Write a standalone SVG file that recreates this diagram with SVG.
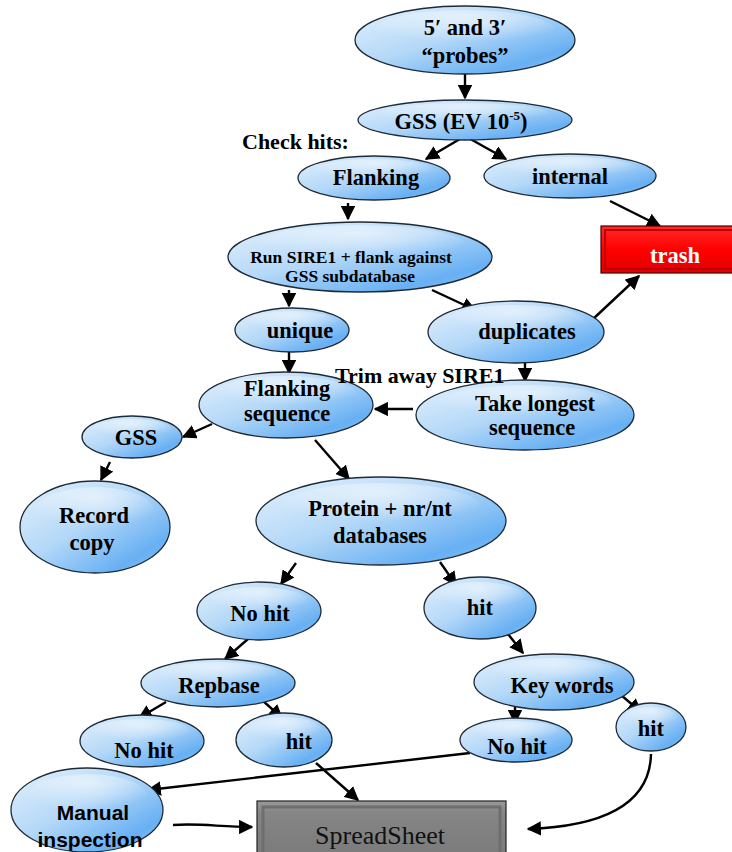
<svg xmlns="http://www.w3.org/2000/svg" width="732" height="852" viewBox="0 0 732 852">
<defs>
<linearGradient id="eg" x1="0" y1="0" x2="1" y2="1">
<stop offset="0" stop-color="#e4f1fc"/>
<stop offset="0.45" stop-color="#b4d8f8"/>
<stop offset="0.8" stop-color="#68b0f3"/>
<stop offset="1" stop-color="#8cc4f5"/>
</linearGradient>
<radialGradient id="hl" cx="0.5" cy="0.2" r="0.6">
<stop offset="0" stop-color="#ffffff" stop-opacity="0.55"/>
<stop offset="1" stop-color="#ffffff" stop-opacity="0"/>
</radialGradient>
<linearGradient id="red" x1="0" y1="0" x2="0" y2="1">
<stop offset="0" stop-color="#ff2a2a"/>
<stop offset="0.5" stop-color="#ff0000"/>
<stop offset="1" stop-color="#e00000"/>
</linearGradient>
<linearGradient id="gray" x1="0" y1="0" x2="0" y2="1">
<stop offset="0" stop-color="#9a9a9a"/>
<stop offset="0.2" stop-color="#858585"/>
<stop offset="1" stop-color="#7a7a7a"/>
</linearGradient>
<marker id="ah" viewBox="0 0 10 10" refX="9" refY="5" markerWidth="6" markerHeight="6" orient="auto" markerUnits="strokeWidth">
<path d="M0,0 L10,5 L0,10 z" fill="#000"/>
</marker>
</defs>
<style>
.n ellipse.b{fill:url(#eg);stroke:#1e2a36;stroke-width:1.3}
.n ellipse.h{fill:url(#hl);stroke:none}
.t{font-family:"Liberation Serif","Times New Roman",serif;font-weight:bold;font-size:22.5px;fill:#000;text-anchor:middle}
.s{font-size:17.5px}
.sans{font-family:"Liberation Sans Narrow","Liberation Sans",Arial,sans-serif;font-size:21px}
.lbl{font-family:"Liberation Serif","Times New Roman",serif;font-weight:bold;font-size:22px;fill:#000}
.c line,.c path{stroke:#000;stroke-width:2.4;fill:none;marker-end:url(#ah)}
</style>

<g class="c" id="connectors">
<line x1="465" y1="70" x2="465" y2="98"/>
<line x1="465" y1="136" x2="426" y2="159"/>
<line x1="465" y1="136" x2="506" y2="159"/>
<line x1="348" y1="203" x2="348" y2="219"/>
<line x1="610" y1="201" x2="660" y2="226"/>
<line x1="592" y1="320" x2="639" y2="276"/>
<line x1="289" y1="290" x2="289" y2="306"/>
<line x1="432" y1="290" x2="475" y2="310"/>
<line x1="289" y1="352" x2="289" y2="373"/>
<line x1="525" y1="362" x2="525" y2="381"/>
<line x1="413" y1="409" x2="375" y2="409"/>
<line x1="212" y1="424" x2="183" y2="437"/>
<line x1="110" y1="462" x2="101" y2="480"/>
<line x1="315" y1="440" x2="349" y2="479"/>
<line x1="296" y1="563" x2="281" y2="584"/>
<line x1="440" y1="562" x2="456" y2="585"/>
<line x1="248" y1="639" x2="225" y2="659"/>
<line x1="508" y1="634" x2="523" y2="653"/>
<line x1="166" y1="702" x2="139" y2="718"/>
<line x1="262" y1="700" x2="282" y2="718"/>
<line x1="515" y1="705" x2="515" y2="723"/>
<line x1="615" y1="690" x2="641" y2="712"/>
<line x1="470" y1="753" x2="148" y2="790"/>
<line x1="316" y1="763" x2="358" y2="800"/>
<path d="M651,754 C650,800 610,826 528,829"/>
<path d="M173,825 C200,823 220,827 252,827"/>
</g>

<g class="n" id="probes"><ellipse class="b" cx="465" cy="40" rx="110" ry="34"/><ellipse class="h" cx="465" cy="30" rx="90" ry="20"/><text class="t" x="465" y="35">5′ and 3′</text><text class="t" x="465" y="63">“probes”</text></g>
<g class="n" id="gss1"><ellipse class="b" cx="465" cy="120" rx="107" ry="20"/><ellipse class="h" cx="465" cy="114" rx="85" ry="11"/><text class="t" x="461" y="129">GSS (EV 10<tspan font-size="13" dy="-9">-5</tspan><tspan dy="9">)</tspan></text></g>
<g class="n" id="flanking"><ellipse class="b" cx="374" cy="178" rx="76" ry="22"/><ellipse class="h" cx="374" cy="171" rx="60" ry="12"/><text class="t" x="376" y="185">Flanking</text></g>
<g class="n" id="internal"><ellipse class="b" cx="570" cy="176" rx="86" ry="22"/><ellipse class="h" cx="570" cy="169" rx="68" ry="12"/><text class="t" x="570" y="184">internal</text></g>
<g id="trash"><rect x="601" y="226" width="140" height="47" fill="url(#red)" stroke="#400" stroke-width="1.2"/><rect x="605" y="230" width="140" height="39" fill="none" stroke="#c00000" stroke-width="2"/><text class="t" x="675" y="263" style="fill:#fff">trash</text></g>
<g class="n" id="run"><ellipse class="b" cx="360" cy="257" rx="132" ry="35"/><ellipse class="h" cx="360" cy="245" rx="105" ry="20"/><text class="t s" x="351" y="263">Run SIRE1 + flank against</text><text class="t s" x="350" y="282">GSS subdatabase</text></g>
<g class="n" id="unique"><ellipse class="b" cx="292" cy="330" rx="57" ry="22"/><ellipse class="h" cx="292" cy="323" rx="45" ry="12"/><text class="t" x="300" y="338">unique</text></g>
<g class="n" id="duplicates"><ellipse class="b" cx="516" cy="332" rx="88" ry="31"/><ellipse class="h" cx="516" cy="322" rx="70" ry="17"/><text class="t" x="527" y="339">duplicates</text></g>
<g class="n" id="flankseq"><ellipse class="b" cx="286" cy="405" rx="87" ry="33"/><ellipse class="h" cx="286" cy="394" rx="70" ry="18"/><text class="t" x="287" y="396">Flanking</text><text class="t" x="287" y="421">sequence</text></g>
<g class="n" id="longest"><ellipse class="b" cx="525" cy="415" rx="109" ry="35"/><ellipse class="h" cx="525" cy="404" rx="88" ry="19"/><text class="t" x="535" y="411">Take longest</text><text class="t" x="532" y="435">sequence</text></g>
<g class="n" id="gss2"><ellipse class="b" cx="132" cy="437" rx="50" ry="21"/><ellipse class="h" cx="132" cy="430" rx="40" ry="11"/><text class="t" x="136" y="445">GSS</text></g>
<g class="n" id="record"><ellipse class="b" cx="95" cy="527" rx="75" ry="46"/><ellipse class="h" cx="95" cy="512" rx="60" ry="25"/><text class="t" x="94" y="523">Record</text><text class="t" x="92" y="550">copy</text></g>
<g class="n" id="protein"><ellipse class="b" cx="381" cy="521" rx="125" ry="44"/><ellipse class="h" cx="381" cy="507" rx="100" ry="24"/><text class="t" x="380" y="516">Protein + nr/nt</text><text class="t" x="380" y="543">databases</text></g>
<g class="n" id="nohit1"><ellipse class="b" cx="259" cy="611" rx="62" ry="29"/><ellipse class="h" cx="259" cy="602" rx="50" ry="15"/><text class="t" x="260" y="621">No hit</text></g>
<g class="n" id="hit1"><ellipse class="b" cx="480" cy="608" rx="56" ry="31"/><ellipse class="h" cx="480" cy="598" rx="45" ry="16"/><text class="t" x="480" y="615">hit</text></g>
<g class="n" id="repbase"><ellipse class="b" cx="218" cy="683" rx="77" ry="24"/><ellipse class="h" cx="218" cy="675" rx="60" ry="13"/><text class="t" x="219" y="693">Repbase</text></g>
<g class="n" id="keywords"><ellipse class="b" cx="554" cy="682" rx="80" ry="28"/><ellipse class="h" cx="554" cy="673" rx="64" ry="15"/><text class="t" x="562" y="693">Key words</text></g>
<g class="n" id="nohit2"><ellipse class="b" cx="142" cy="741" rx="62" ry="26"/><ellipse class="h" cx="142" cy="733" rx="50" ry="14"/><text class="t" x="144" y="758">No hit</text></g>
<g class="n" id="hit2"><ellipse class="b" cx="284" cy="740" rx="48" ry="27"/><ellipse class="h" cx="284" cy="731" rx="38" ry="14"/><text class="t" x="299" y="749">hit</text></g>
<g class="n" id="nohit3"><ellipse class="b" cx="516" cy="740" rx="56" ry="22"/><ellipse class="h" cx="516" cy="733" rx="45" ry="12"/><text class="t" x="517" y="754">No hit</text></g>
<g class="n" id="hit3"><ellipse class="b" cx="651" cy="727" rx="35" ry="24"/><ellipse class="h" cx="651" cy="719" rx="27" ry="12"/><text class="t" x="651" y="736">hit</text></g>
<g class="n" id="manual"><ellipse class="b" cx="87" cy="810" rx="76" ry="42"/><ellipse class="h" cx="87" cy="796" rx="60" ry="22"/><text class="t sans" x="93" y="820">Manual</text><text class="t sans" x="90" y="847">inspection</text></g>
<g id="spreadsheet"><rect x="257" y="801" width="249" height="60" fill="url(#gray)" stroke="#222" stroke-width="1.2"/><rect x="263" y="807" width="237" height="50" fill="none" stroke="#6e6e6e" stroke-width="3"/><text x="380" y="844" style="font-family:'Liberation Serif','Times New Roman',serif;font-size:26px;fill:#111;text-anchor:middle">SpreadSheet</text></g>

<text class="lbl" x="242" y="149">Check hits:</text>
<text class="lbl" x="335" y="383">Trim away SIRE1</text>
</svg>
